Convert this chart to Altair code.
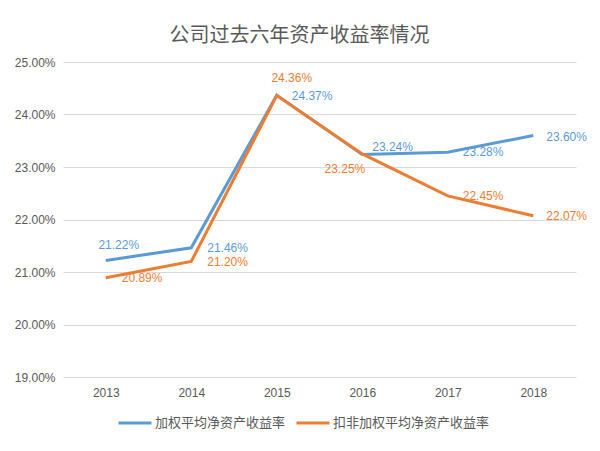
import altair as alt
import pandas as pd

years = ["2013", "2014", "2015", "2016", "2017", "2018"]
series_names = ["加权平均净资产收益率", "扣非加权平均净资产收益率"]
roe_weighted = [21.22, 21.46, 24.37, 23.24, 23.28, 23.60]
roe_deducted = [20.89, 21.20, 24.36, 23.25, 22.45, 22.07]
y_ticks = [19, 20, 21, 22, 23, 24, 25]

colors = ["#5B9BD5", "#ED7D31"]

# label placement (dx, dy, align) per series per year
label_place = {
    series_names[0]: [(13, -15, "center"), (16, 0, "left"), (15, 1, "left"),
                      (10, -7, "left"), (15, 0, "left"), (13, 1, "left")],
    series_names[1]: [(16, 0, "left"), (16, 0, "left"), (15, -18, "center"),
                      (3, 15, "right"), (15, 0, "left"), (13, 0, "left")],
}

rows = []
for s, vals in zip(series_names, [roe_weighted, roe_deducted]):
    for y, v in zip(years, vals):
        rows.append({"year": y, "series": s, "value": v, "label": f"{v:.2f}%"})
df = pd.DataFrame(rows)

FONT = "Liberation Sans"
CJK = "Noto Sans CJK SC"

x_enc = alt.X("year:O", title=None, scale=alt.Scale(type="point", padding=0.5),
              axis=alt.Axis(labelAngle=0, ticks=False, domain=False, grid=False,
                            labelPadding=10, labelFont=FONT, labelFontSize=12,
                            labelColor="#595959"))
y_enc = alt.Y("value:Q", title=None,
              scale=alt.Scale(domain=[19, 25], nice=False, zero=False),
              axis=alt.Axis(values=y_ticks, labelExpr="format(datum.value, '.2f') + '%'",
                            ticks=False, domain=False, gridColor="#D9D9D9", gridWidth=1,
                            labelPadding=8, labelFont=FONT, labelFontSize=12,
                            labelColor="#595959"))

lines = alt.Chart(df).mark_line(strokeWidth=3).encode(
    x=x_enc, y=y_enc,
    color=alt.Color("series:N", sort=series_names,
                    scale=alt.Scale(domain=series_names, range=colors),
                    legend=alt.Legend(title=None, orient="none", legendX=54, legendY=343,
                                      direction="horizontal",
                                      symbolType="stroke", symbolStrokeWidth=3,
                                      symbolSize=1089, labelFont=CJK, labelFontSize=13,
                                      labelColor="#595959", columnPadding=4,
                                      labelOffset=2)),
)

layers = [lines]
for si, s in enumerate(series_names):
    for yi, yr in enumerate(years):
        dx, dy, al = label_place[s][yi]
        t = alt.Chart(df).transform_filter(
            (alt.datum.series == s) & (alt.datum.year == yr)
        ).mark_text(dx=dx, dy=dy, align=al, baseline="middle", font=FONT,
                    fontSize=12, color=colors[si]).encode(
            x="year:O", y="value:Q", text="label:N")
        layers.append(t)

chart = alt.layer(*layers).properties(
    width=513, height=315,
    background="white",
    title=alt.TitleParams("公司过去六年资产收益率情况", font=CJK, fontSize=20,
                          fontWeight="normal", color="#595959", offset=10,
                          anchor="middle", dx=-20),
    autosize=alt.AutoSizeParams(type="none"),
    padding={"left": 63, "top": 62, "right": 24, "bottom": 74},
).configure_view(stroke=None)

chart.save("out.html", embed_options={"renderer": "svg", "actions": False})
